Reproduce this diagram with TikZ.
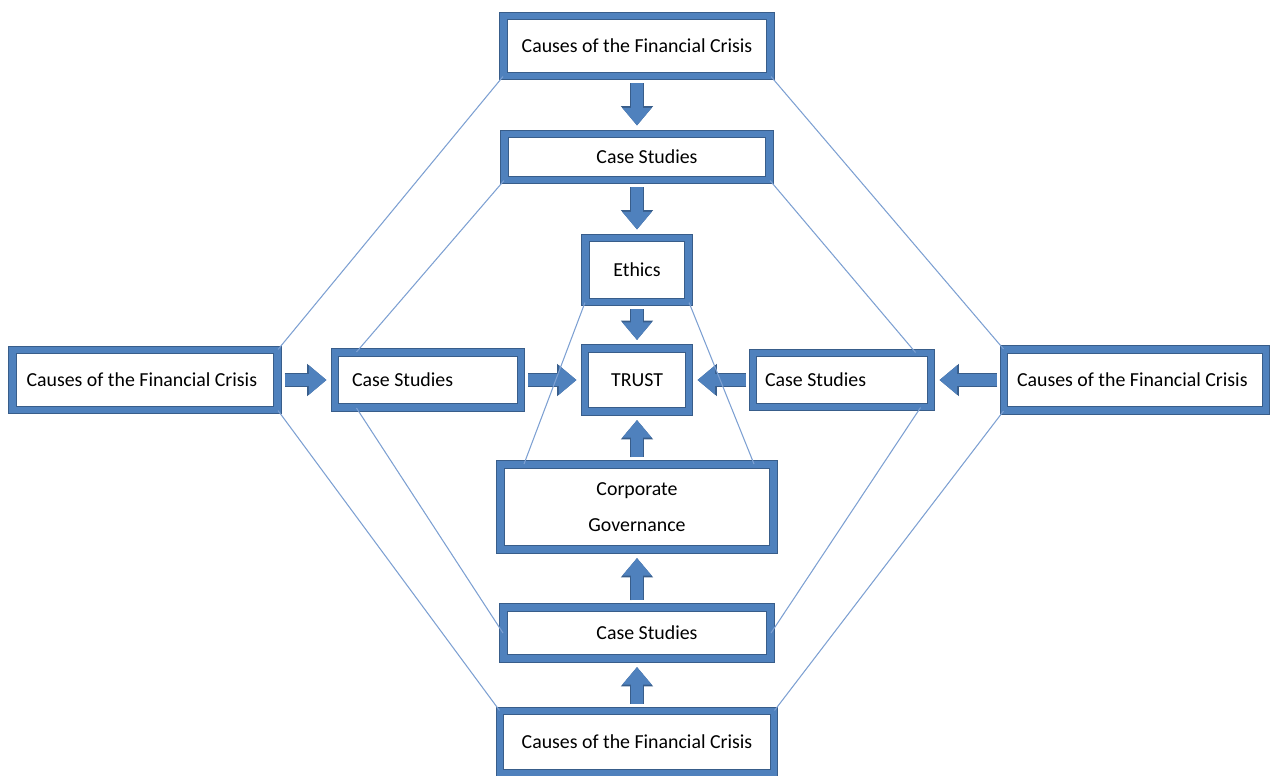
\documentclass[tikz,border=0pt]{standalone}
\usepackage{fontspec}
\setmainfont{Carlito}
\usetikzlibrary{arrows.meta}
\definecolor{framefill}{RGB}{79,129,189}
\definecolor{frameedge}{RGB}{56,93,138}
\definecolor{linkblue}{RGB}{125,160,210}
\tikzstyle{framedbox} = [rectangle, draw=frameedge, line width=0.6pt, double=framefill, double distance=3.6pt, fill=white, font=\fontsize{11.3}{13.6}\selectfont]
\tikzstyle{leftbox} = [framedbox, align=flush left]
\tikzstyle{thickarrow} = [line width=7pt, draw=framefill, -{Triangle[length=10pt, width=16pt]}, shorten <=0.13cm, shorten >=0.16cm, preaction={draw=frameedge, line width=8pt, -{Triangle[length=11pt, width=17.6pt]}}]
\tikzstyle{link} = [draw=linkblue, line width=0.6pt]

\begin{document}
\begin{tikzpicture}[x=0.02cm, y=-0.02cm]
\useasboundingbox (0,0) rectangle (1270,775);

% Middle column
\node (topcause) [framedbox, minimum width=5.34cm, minimum height=1.2cm] at (637,46) {Causes of the Financial Crisis};
\node (topcase) [framedbox, minimum width=5.3cm, minimum height=0.92cm] at (637,157) {\hspace*{0.4cm}Case Studies};
\node (ethics) [framedbox, minimum width=2.06cm, minimum height=1.28cm] at (637,270) {Ethics};
\node (trust) [framedbox, minimum width=2.08cm, minimum height=1.26cm] at (637,380) {TRUST};
\node (corpgov) [framedbox, align=center, minimum width=5.46cm, minimum height=1.7cm] at (637,507) {Corporate\\[7pt]Governance};
\node (bottomcase) [framedbox, minimum width=5.34cm, minimum height=1.02cm] at (637,633) {\hspace*{0.4cm}Case Studies};
\node (bottomcause) [framedbox, minimum width=5.48cm, minimum height=1.24cm] at (637,742) {Causes of the Financial Crisis};

% Middle row
\node (leftcause) [leftbox, text width=4.74cm, inner xsep=0.28cm, minimum height=1.2cm] at (145,380) {Causes of the Financial Crisis};
\node (leftcase) [leftbox, text width=3.04cm, inner xsep=0.34cm, minimum height=1.1cm] at (428,380) {Case Studies};
\node (rightcase) [leftbox, text width=3.08cm, inner xsep=0.24cm, minimum height=1.08cm] at (842,380) {Case Studies};
\node (rightcause) [leftbox, text width=4.72cm, inner xsep=0.26cm, minimum height=1.22cm] at (1135,380) {Causes of the Financial Crisis};

% Block arrows
\draw [thickarrow] (topcause) -- (topcase);
\draw [thickarrow] (topcase) -- (ethics);
\draw [thickarrow] (ethics) -- (trust);
\draw [thickarrow] (leftcause) -- (leftcase);
\draw [thickarrow] (leftcase) -- (trust);
\draw [thickarrow] (rightcause) -- (rightcase);
\draw [thickarrow] (rightcase) -- (trust);
\draw [thickarrow] (corpgov) -- (trust);
\draw [thickarrow] (bottomcase) -- (corpgov);
\draw [thickarrow] (bottomcause) -- (bottomcase);

% Thin links
\draw [link] (topcause.south west) -- (leftcause.north east);
\draw [link] (topcause.south east) -- (rightcause.north west);
\draw [link] (topcase.south west) -- ([xshift=0.44cm]leftcase.north west);
\draw [link] (topcase.south east) -- ([xshift=-0.32cm]rightcase.north east);
\draw [link] (ethics.south west) -- ([xshift=0.48cm]corpgov.north west);
\draw [link] (ethics.south east) -- ([xshift=-0.4cm]corpgov.north east);
\draw [link] (leftcause.south east) -- (bottomcause.north west);
\draw [link] ([xshift=0.44cm]leftcase.south west) -- (bottomcase.west);
\draw [link] ([xshift=-0.22cm]rightcase.south east) -- (bottomcase.east);
\draw [link] (rightcause.south west) -- (bottomcause.north east);

\end{tikzpicture}
\end{document}
